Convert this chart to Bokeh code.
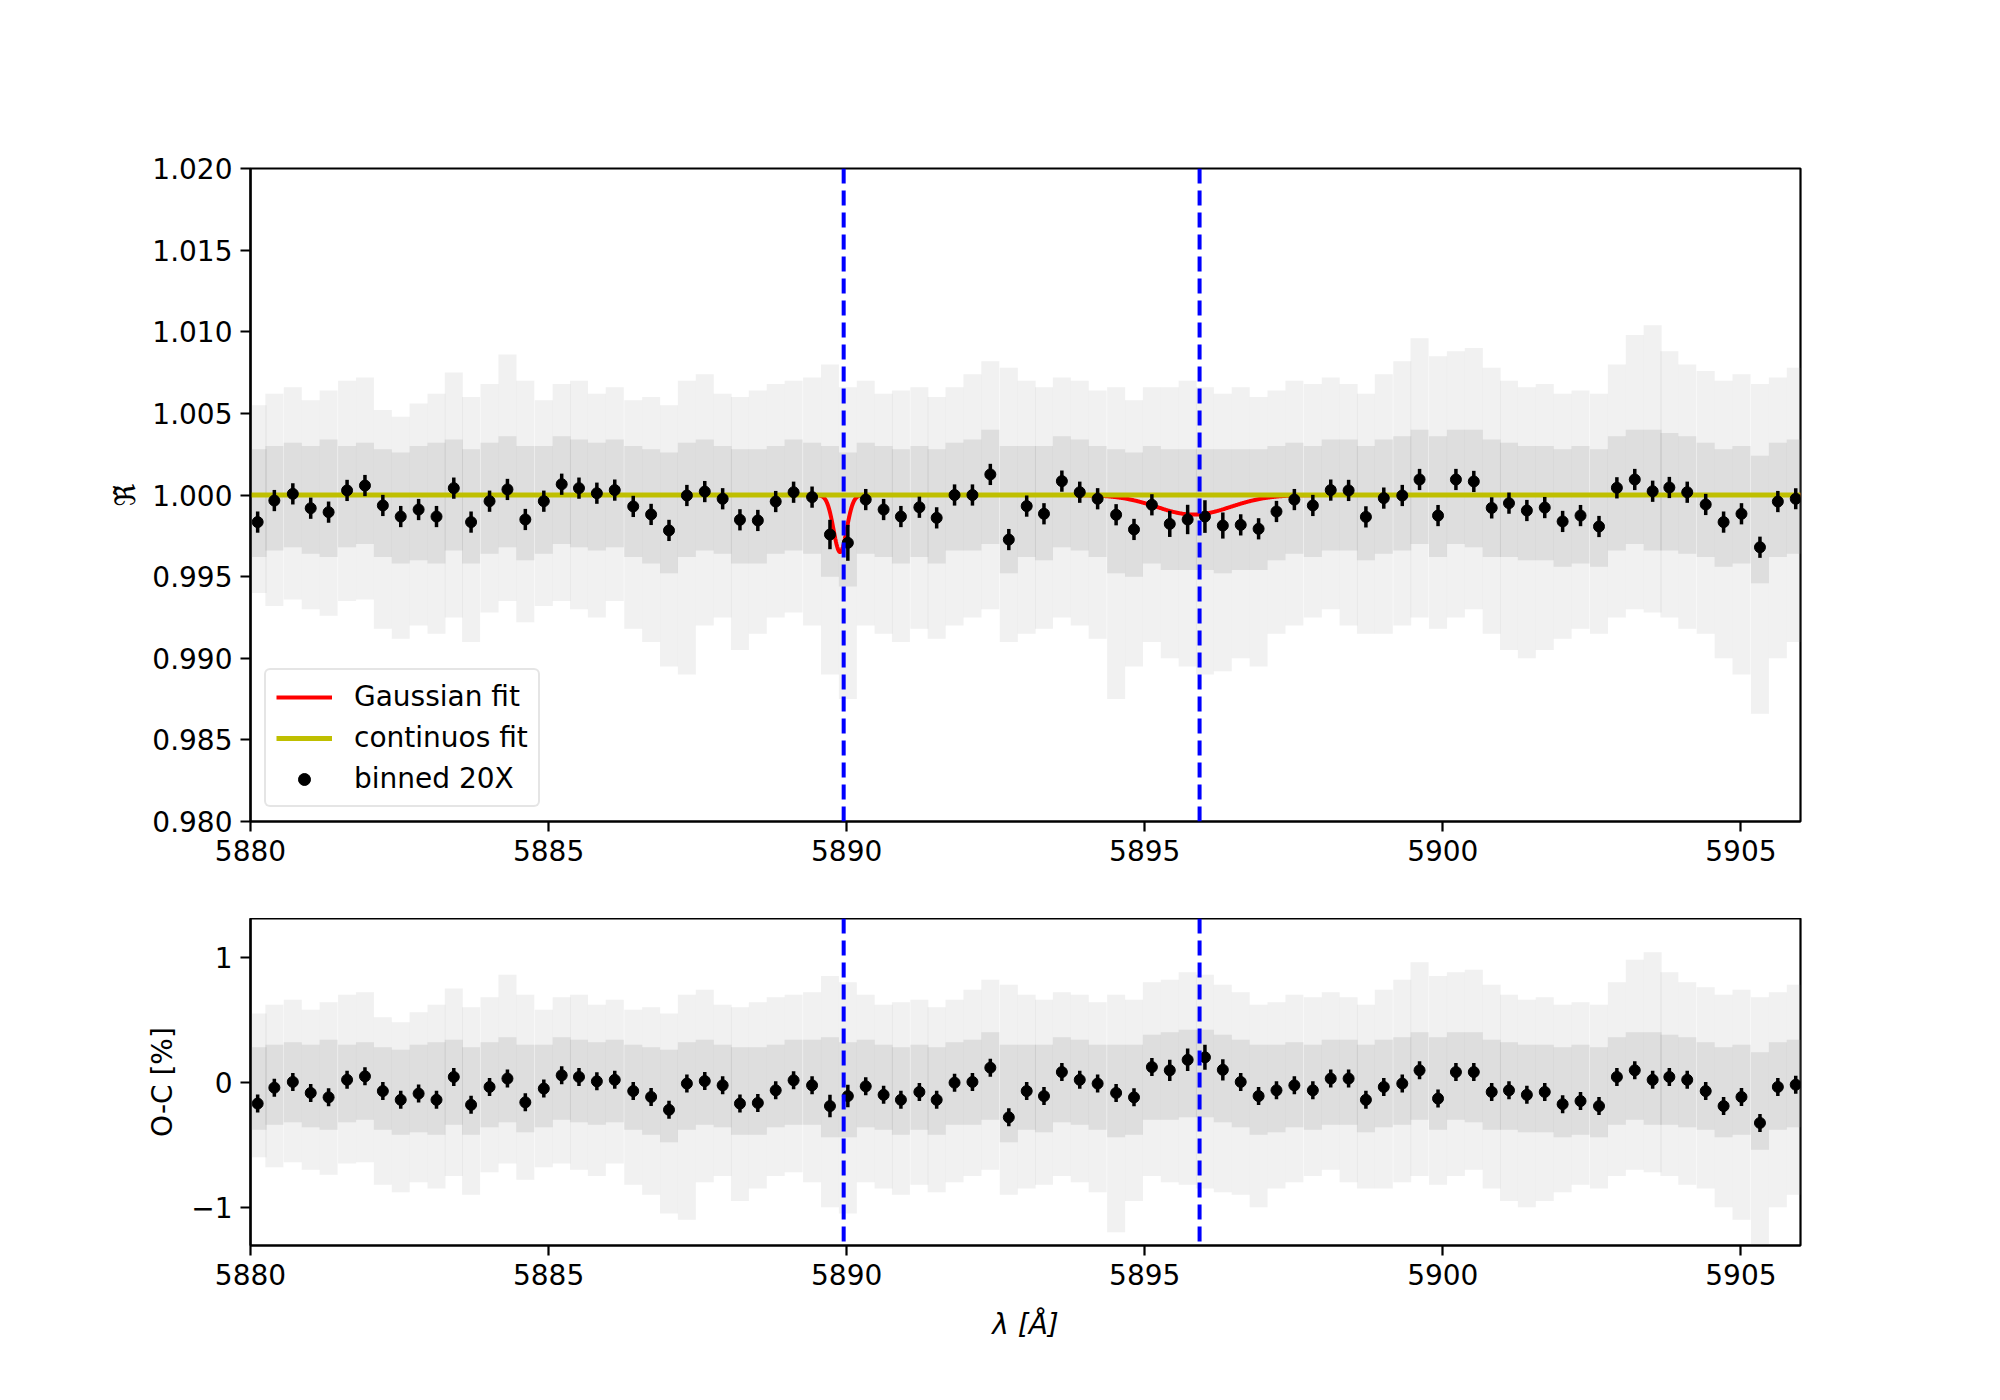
import numpy as np
from bokeh.plotting import figure
from bokeh.layouts import column
from bokeh.models import (Span, Legend, LegendItem, FixedTicker, PrintfTickFormatter, Range1d)
from bokeh.embed import file_html
from bokeh.resources import INLINE

# ---------------- data ----------------
bin_wl = [5880.12, 5880.40, 5880.71, 5881.01, 5881.31, 5881.62, 5881.92, 5882.22, 5882.52, 5882.82,
          5883.12, 5883.41, 5883.70, 5884.01, 5884.31, 5884.61, 5884.92, 5885.22, 5885.51, 5885.81,
          5886.11, 5886.42, 5886.72, 5887.02, 5887.32, 5887.62, 5887.92, 5888.21, 5888.51,
          5888.81, 5889.11, 5889.42, 5889.72, 5890.02, 5890.32, 5890.62, 5890.91, 5891.22, 5891.51,
          5891.81, 5892.11, 5892.41, 5892.72, 5893.02, 5893.31, 5893.61, 5893.91, 5894.21, 5894.52,
          5894.82, 5895.12, 5895.42, 5895.72, 5896.01, 5896.31, 5896.61, 5896.91, 5897.21,
          5897.51, 5897.82, 5898.12, 5898.42, 5898.71, 5899.01, 5899.32, 5899.61, 5899.92, 5900.22,
          5900.52, 5900.82, 5901.11, 5901.41, 5901.71, 5902.01, 5902.31, 5902.62, 5902.92, 5903.22,
          5903.52, 5903.80, 5904.10, 5904.41, 5904.71, 5905.01, 5905.32, 5905.62, 5905.92]

bin_flux = [0.99834, 0.99966, 1.00007, 0.99919, 0.99895, 1.00028, 1.00058, 0.99936, 0.99868, 0.99911,
            0.99868, 1.00042, 0.99834, 0.99962, 1.00034, 0.99850, 0.99962, 1.00066, 1.00042, 1.00011,
            1.00030, 0.99930, 0.99881, 0.99783, 0.99997, 1.00021, 0.99977, 0.99848, 0.99844,
            0.99960, 1.00017, 0.99987, 0.99758, 0.99707, 0.99972, 0.99911, 0.99868, 0.99925, 0.99860,
            1.00000, 1.00000, 1.00126, 0.99727, 0.99932, 0.99885, 1.00085, 1.00017, 0.99977, 0.99879,
            0.99789, 0.99940, 0.99823, 0.99850, 0.99868, 0.99813, 0.99817, 0.99793, 0.99899,
            0.99972, 0.99936, 1.00030, 1.00028, 0.99866, 0.99981, 0.99997, 1.00095, 0.99874, 1.00095,
            1.00083, 0.99921, 0.99950, 0.99905, 0.99923, 0.99838, 0.99874, 0.99807, 1.00044, 1.00095,
            1.00023, 1.00046, 1.00017, 0.99942, 0.99834, 0.99885, 0.99680, 0.99960, 0.99977]

bin_err = [0.00065] * 32 + [0.0009, 0.0011] + [0.00065] * 17 + [0.0008, 0.0009, 0.0010, 0.0008] + [0.00065] * 32

res_val = [-0.170, -0.043, 0.003, -0.085, -0.120, 0.020, 0.048, -0.070, -0.140, -0.090,
           -0.140, 0.043, -0.180, -0.037, 0.030, -0.160, -0.050, 0.056, 0.043, 0.008,
           0.020, -0.070, -0.117, -0.220, -0.010, 0.010, -0.024, -0.170, -0.165,
           -0.064, 0.016, -0.024, -0.190, -0.110, -0.032, -0.100, -0.140, -0.077, -0.140,
           -0.003, 0.003, 0.117, -0.280, -0.070, -0.110, 0.082, 0.020, -0.010, -0.085,
           -0.120, 0.122, 0.096, 0.180, 0.200, 0.100, 0.003, -0.110, -0.064,
           -0.024, -0.064, 0.030, 0.030, -0.140, -0.037, -0.010, 0.096, -0.130, 0.082,
           0.082, -0.077, -0.064, -0.100, -0.077, -0.175, -0.150, -0.190, 0.043, 0.096,
           0.020, 0.043, 0.020, -0.070, -0.190, -0.117, -0.325, -0.037, -0.019]
res_err = [0.072] * 32 + [0.09, 0.09] + [0.072] * 17 + [0.085, 0.09, 0.10, 0.085] + [0.072] * 32

# envelope of the unbinned (grey) spectrum, per bin
raw_hi = [1.0055, 1.0062, 1.0066, 1.0058, 1.0064, 1.0070, 1.0072, 1.0052, 1.0048, 1.0056,
          1.0062, 1.0075, 1.0060, 1.0068, 1.0086, 1.0070, 1.0058, 1.0068, 1.0070, 1.0062,
          1.0066, 1.0058, 1.0060, 1.0055, 1.0070, 1.0074, 1.0062, 1.0060, 1.0064,
          1.0068, 1.0070, 1.0072, 1.0080, 1.0066, 1.0070, 1.0062, 1.0064, 1.0066, 1.0060,
          1.0066, 1.0074, 1.0082, 1.0078, 1.0070, 1.0066, 1.0072, 1.0070, 1.0064, 1.0066,
          1.0058, 1.0066, 1.0066, 1.0070, 1.0066, 1.0062, 1.0066, 1.0060, 1.0064,
          1.0070, 1.0068, 1.0072, 1.0068, 1.0062, 1.0074, 1.0082, 1.0096, 1.0085, 1.0088,
          1.0090, 1.0078, 1.0070, 1.0066, 1.0068, 1.0062, 1.0064, 1.0062, 1.0080, 1.0098,
          1.0104, 1.0088, 1.0080, 1.0076, 1.0070, 1.0074, 1.0068, 1.0072, 1.0078]
raw_lo = [0.9940, 0.9932, 0.9936, 0.9930, 0.9926, 0.9935, 0.9936, 0.9918, 0.9912, 0.9920,
          0.9915, 0.9925, 0.9910, 0.9928, 0.9935, 0.9922, 0.9932, 0.9935, 0.9930, 0.9925,
          0.9935, 0.9918, 0.9910, 0.9895, 0.9890, 0.9920, 0.9925, 0.9905, 0.9915,
          0.9925, 0.9928, 0.9920, 0.9890, 0.9875, 0.9920, 0.9915, 0.9910, 0.9918, 0.9912,
          0.9920, 0.9925, 0.9930, 0.9910, 0.9915, 0.9918, 0.9925, 0.9920, 0.9912, 0.9875,
          0.9895, 0.9910, 0.9900, 0.9895, 0.9890, 0.9892, 0.9900, 0.9895, 0.9915,
          0.9920, 0.9925, 0.9930, 0.9920, 0.9915, 0.9915, 0.9920, 0.9925, 0.9918, 0.9925,
          0.9930, 0.9915, 0.9905, 0.9900, 0.9905, 0.9912, 0.9918, 0.9915, 0.9925, 0.9930,
          0.9928, 0.9925, 0.9918, 0.9915, 0.9900, 0.9890, 0.9866, 0.9900, 0.9910]
core_hi = [1.0028, 1.0030, 1.0032, 1.0030, 1.0034, 1.0030, 1.0032, 1.0028, 1.0026, 1.0030,
           1.0032, 1.0034, 1.0028, 1.0032, 1.0036, 1.0030, 1.0030, 1.0036, 1.0034, 1.0032,
           1.0034, 1.0030, 1.0028, 1.0026, 1.0032, 1.0034, 1.0030, 1.0028, 1.0028,
           1.0030, 1.0034, 1.0032, 1.0030, 1.0026, 1.0032, 1.0030, 1.0028, 1.0030, 1.0028,
           1.0032, 1.0034, 1.0040, 1.0030, 1.0030, 1.0030, 1.0036, 1.0034, 1.0030, 1.0028,
           1.0026, 1.0030, 1.0028, 1.0028, 1.0028, 1.0028, 1.0028, 1.0028, 1.0030,
           1.0032, 1.0030, 1.0034, 1.0034, 1.0030, 1.0034, 1.0036, 1.0040, 1.0036, 1.0040,
           1.0040, 1.0034, 1.0032, 1.0030, 1.0030, 1.0028, 1.0030, 1.0028, 1.0036, 1.0040,
           1.0040, 1.0038, 1.0036, 1.0032, 1.0028, 1.0030, 1.0024, 1.0032, 1.0034]
core_lo = [0.9962, 0.9966, 0.9968, 0.9964, 0.9962, 0.9968, 0.9970, 0.9962, 0.9958, 0.9960,
           0.9958, 0.9966, 0.9958, 0.9964, 0.9968, 0.9960, 0.9964, 0.9970, 0.9968, 0.9966,
           0.9968, 0.9962, 0.9958, 0.9952, 0.9962, 0.9966, 0.9964, 0.9958, 0.9958,
           0.9964, 0.9966, 0.9964, 0.9950, 0.9944, 0.9964, 0.9962, 0.9958, 0.9962, 0.9958,
           0.9966, 0.9966, 0.9970, 0.9952, 0.9962, 0.9960, 0.9968, 0.9966, 0.9962, 0.9952,
           0.9950, 0.9958, 0.9954, 0.9954, 0.9954, 0.9952, 0.9954, 0.9954, 0.9960,
           0.9964, 0.9962, 0.9966, 0.9966, 0.9960, 0.9964, 0.9966, 0.9970, 0.9962, 0.9970,
           0.9968, 0.9962, 0.9962, 0.9960, 0.9960, 0.9956, 0.9958, 0.9956, 0.9966, 0.9970,
           0.9966, 0.9966, 0.9964, 0.9962, 0.9956, 0.9958, 0.9946, 0.9962, 0.9964]

res_raw_hi = [0.55, 0.62, 0.66, 0.58, 0.64, 0.70, 0.72, 0.52, 0.48, 0.56,
              0.62, 0.75, 0.60, 0.68, 0.86, 0.70, 0.58, 0.68, 0.70, 0.62,
              0.66, 0.58, 0.60, 0.55, 0.70, 0.74, 0.62, 0.60, 0.64,
              0.68, 0.70, 0.72, 0.85, 0.80, 0.70, 0.62, 0.64, 0.66, 0.60,
              0.66, 0.74, 0.82, 0.78, 0.70, 0.66, 0.72, 0.70, 0.64, 0.70,
              0.66, 0.80, 0.82, 0.88, 0.86, 0.78, 0.72, 0.62, 0.64,
              0.70, 0.68, 0.72, 0.68, 0.62, 0.74, 0.82, 0.96, 0.85, 0.88,
              0.90, 0.78, 0.70, 0.66, 0.68, 0.62, 0.64, 0.62, 0.80, 0.98,
              1.04, 0.88, 0.80, 0.76, 0.70, 0.74, 0.68, 0.72, 0.78]
res_raw_lo = [-0.60, -0.68, -0.64, -0.70, -0.74, -0.65, -0.64, -0.82, -0.88, -0.80,
              -0.85, -0.75, -0.90, -0.72, -0.65, -0.78, -0.68, -0.65, -0.70, -0.75,
              -0.65, -0.82, -0.90, -1.05, -1.10, -0.80, -0.75, -0.95, -0.85,
              -0.75, -0.72, -0.80, -1.00, -1.05, -0.80, -0.85, -0.90, -0.82, -0.88,
              -0.80, -0.75, -0.70, -0.90, -0.85, -0.82, -0.75, -0.80, -0.88, -1.20,
              -0.95, -0.75, -0.80, -0.82, -0.85, -0.88, -0.90, -1.00, -0.85,
              -0.80, -0.75, -0.70, -0.80, -0.85, -0.85, -0.80, -0.75, -0.82, -0.75,
              -0.70, -0.85, -0.95, -1.00, -0.95, -0.88, -0.82, -0.85, -0.75, -0.70,
              -0.72, -0.75, -0.82, -0.85, -1.00, -1.10, -1.34, -1.00, -0.90]
res_core_hi = [0.28, 0.30, 0.32, 0.30, 0.34, 0.30, 0.32, 0.28, 0.26, 0.30,
               0.32, 0.34, 0.28, 0.32, 0.36, 0.30, 0.30, 0.36, 0.34, 0.32,
               0.34, 0.30, 0.28, 0.26, 0.32, 0.34, 0.30, 0.28, 0.28,
               0.30, 0.34, 0.34, 0.36, 0.32, 0.34, 0.30, 0.28, 0.30, 0.28,
               0.32, 0.34, 0.40, 0.30, 0.30, 0.30, 0.36, 0.34, 0.30, 0.30,
               0.30, 0.38, 0.40, 0.42, 0.42, 0.38, 0.34, 0.30, 0.30,
               0.32, 0.30, 0.34, 0.34, 0.30, 0.34, 0.36, 0.40, 0.36, 0.40,
               0.40, 0.34, 0.32, 0.30, 0.30, 0.28, 0.30, 0.28, 0.36, 0.40,
               0.40, 0.38, 0.36, 0.32, 0.28, 0.30, 0.24, 0.32, 0.34]
res_core_lo = [-0.38, -0.34, -0.32, -0.36, -0.38, -0.32, -0.30, -0.38, -0.42, -0.40,
               -0.42, -0.34, -0.42, -0.36, -0.32, -0.40, -0.36, -0.30, -0.32, -0.34,
               -0.32, -0.38, -0.42, -0.48, -0.38, -0.34, -0.36, -0.42, -0.42,
               -0.36, -0.34, -0.34, -0.44, -0.44, -0.36, -0.38, -0.42, -0.38, -0.42,
               -0.34, -0.34, -0.30, -0.48, -0.38, -0.40, -0.32, -0.34, -0.38, -0.44,
               -0.42, -0.30, -0.30, -0.28, -0.28, -0.32, -0.36, -0.42, -0.40,
               -0.36, -0.38, -0.34, -0.34, -0.40, -0.36, -0.34, -0.30, -0.38, -0.30,
               -0.32, -0.38, -0.38, -0.40, -0.40, -0.44, -0.42, -0.44, -0.34, -0.30,
               -0.34, -0.34, -0.36, -0.38, -0.44, -0.42, -0.54, -0.38, -0.36]

na_lines = [5889.95, 5895.92]

# Gaussian fit parameters (centre, depth, sigma) and continuum level
gauss_centre = [5889.89, 5895.82]
gauss_depth = [0.0035, 0.0012]
gauss_sigma = [0.11, 0.62]
continuum = 1.0

# ---------------- helpers ----------------
FONT = "DejaVu Sans"
FS = "28px"
x_c = np.array(bin_wl)
half = 0.151


def style(p, yticks, ylabel, ylabel_standoff, xlabel=None):
    p.outline_line_color = "black"
    p.outline_line_width = 2.2
    p.xgrid.visible = False
    p.ygrid.visible = False
    for ax in (p.xaxis[0], p.yaxis[0]):
        ax.axis_line_width = 2.2
        ax.major_tick_line_width = 2.2
        ax.major_tick_out = 10
        ax.major_tick_in = 0
        ax.minor_tick_line_color = None
        ax.major_label_text_font = FONT
        ax.major_label_text_font_size = FS
        ax.major_label_text_color = "black"
        ax.major_label_standoff = 8
        ax.axis_label_text_font = FONT
        ax.axis_label_text_font_size = FS
        ax.axis_label_text_font_style = "normal"
        ax.axis_label_text_color = "black"
    p.xaxis.ticker = FixedTicker(ticks=[5880, 5885, 5890, 5895, 5900, 5905])
    p.xaxis.formatter = PrintfTickFormatter(format="%d")
    p.yaxis.ticker = FixedTicker(ticks=yticks)
    p.yaxis.axis_label = ylabel
    p.yaxis.axis_label_standoff = ylabel_standoff
    if xlabel:
        p.xaxis.axis_label = xlabel
        p.xaxis.axis_label_text_font_style = "italic"
        p.xaxis.axis_label_standoff = 20
    for w in na_lines:
        p.add_layout(Span(location=w, dimension="height", line_color="#0000ff",
                          line_width=4, line_dash="15 7"))


# ---------------- top panel ----------------
top = figure(title=None, output_backend="svg", toolbar_location=None,
             frame_width=1550, frame_height=653,
             min_border_left=250, min_border_right=192, min_border_top=168, min_border_bottom=97,
             x_range=Range1d(5880, 5906), y_range=Range1d(0.980, 1.020))

top.quad(left=x_c - half, right=x_c + half, bottom=raw_lo, top=raw_hi,
         fill_color="#9a9a9a", fill_alpha=0.14, line_color=None)
top.quad(left=x_c - half, right=x_c + half, bottom=core_lo, top=core_hi,
         fill_color="#9a9a9a", fill_alpha=0.22, line_color=None)

wl_model = np.linspace(5880, 5906, 2601)
model = np.full_like(wl_model, continuum)
for c, d, s in zip(gauss_centre, gauss_depth, gauss_sigma):
    model -= d * np.exp(-0.5 * ((wl_model - c) / s) ** 2)

r_gauss = top.line(wl_model, model, line_color="#ff0000", line_width=4)
r_cont = top.line([5880, 5906], [continuum, continuum], line_color="#bfbf00", line_width=5)

flux = np.array(bin_flux)
err = np.array(bin_err)
top.segment(x0=bin_wl, y0=flux - err, x1=bin_wl, y1=flux + err, line_color="black", line_width=3.5)
r_bin = top.scatter(bin_wl, bin_flux, size=11, marker="circle", fill_color="black", line_color="black")

style(top, [0.980, 0.985, 0.990, 0.995, 1.000, 1.005, 1.010, 1.015, 1.020], "\u211c\u0303", 7)
top.yaxis.formatter = PrintfTickFormatter(format="%.3f")

legend = Legend(items=[LegendItem(label="Gaussian fit", renderers=[r_gauss]),
                       LegendItem(label="continuos fit", renderers=[r_cont]),
                       LegendItem(label="binned 20X", renderers=[r_bin])],
                location="bottom_left")
legend.label_text_font = FONT
legend.label_text_font_size = FS
legend.label_text_color = "black"
legend.label_standoff = 22
legend.glyph_width = 56
legend.glyph_height = 30
legend.label_height = 30
legend.spacing = 8
legend.padding = 10
legend.margin = 14
legend.border_line_color = "#cccccc"
legend.border_line_width = 2
legend.background_fill_alpha = 0.8
if "border_radius" in Legend.properties():
    legend.border_radius = 6
top.add_layout(legend)

# ---------------- bottom panel ----------------
bot = figure(title=None, output_backend="svg", toolbar_location=None,
             frame_width=1550, frame_height=327,
             min_border_left=250, min_border_right=192, min_border_top=0, min_border_bottom=147,
             x_range=top.x_range, y_range=Range1d(-1.305, 1.31))

bot.quad(left=x_c - half, right=x_c + half, bottom=res_raw_lo, top=res_raw_hi,
         fill_color="#9a9a9a", fill_alpha=0.14, line_color=None)
bot.quad(left=x_c - half, right=x_c + half, bottom=res_core_lo, top=res_core_hi,
         fill_color="#9a9a9a", fill_alpha=0.22, line_color=None)

rv = np.array(res_val)
re = np.array(res_err)
bot.segment(x0=bin_wl, y0=rv - re, x1=bin_wl, y1=rv + re, line_color="black", line_width=3.5)
bot.scatter(bin_wl, res_val, size=11, marker="circle", fill_color="black", line_color="black")

style(bot, [-1, 0, 1], "O-C [%]", 9, xlabel="\u03bb [\u00c5]")
bot.yaxis.major_label_overrides = {-1: "\u22121", 0: "0", 1: "1"}

layout = column(top, bot, spacing=0)
open("out.html", "w").write(file_html(layout, INLINE))
